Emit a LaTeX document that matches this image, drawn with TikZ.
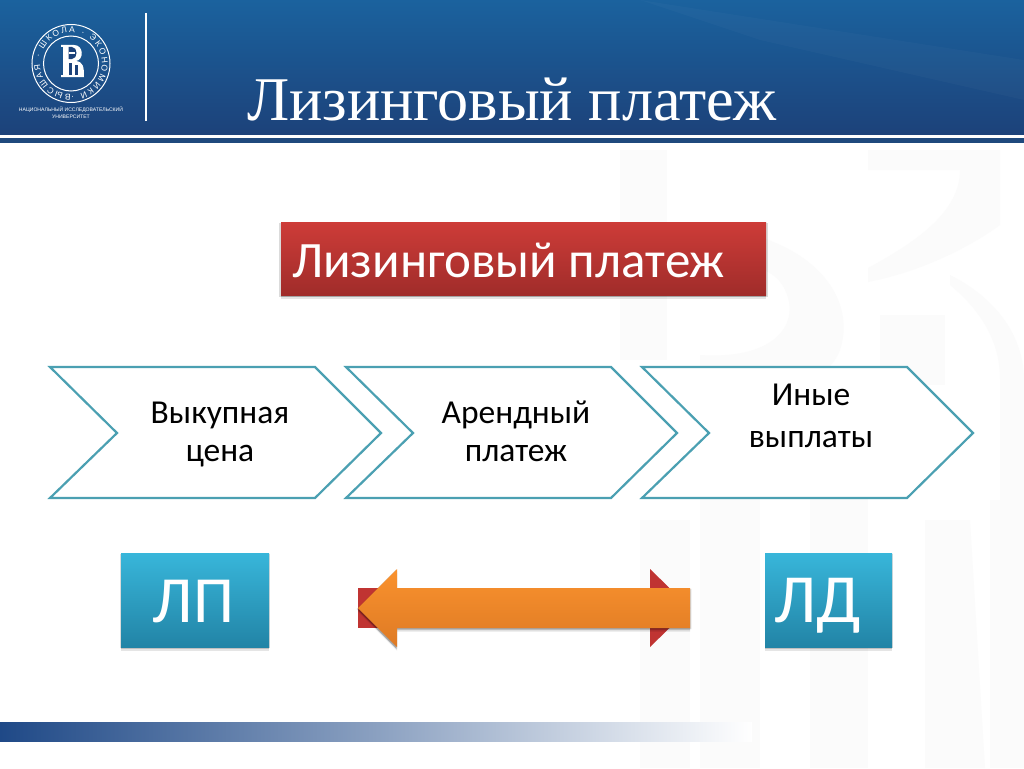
\documentclass[tikz,border=0pt]{standalone}
\usepackage{fontspec}
\setmainfont{Carlito}
\newfontfamily\serifru{Liberation Serif}
\newfontfamily\logofont{Liberation Sans}
\usetikzlibrary{shadows,decorations.text}
\definecolor{hdrtop}{RGB}{27,98,158}
\definecolor{hdrbot}{RGB}{28,66,122}
\definecolor{navy}{RGB}{31,73,125}
\definecolor{teal}{RGB}{75,160,178}
\definecolor{redtop}{RGB}{205,60,56}
\definecolor{redbot}{RGB}{160,44,42}
\definecolor{redflat}{RGB}{192,52,50}
\definecolor{ortop}{RGB}{250,146,46}
\definecolor{orbot}{RGB}{222,122,36}
\definecolor{bluetop}{RGB}{56,182,218}
\definecolor{bluebot}{RGB}{34,132,166}
\definecolor{wm}{RGB}{251,251,251}
\definecolor{barblue}{RGB}{31,73,135}
\tikzset{
  softshadow/.style={
    general shadow={shadow xshift=0pt,shadow yshift=-1pt,shadow scale=1.008,opacity=0.14,fill=black},
    general shadow={shadow xshift=0pt,shadow yshift=-2pt,opacity=0.16,fill=black},
    general shadow={shadow xshift=0pt,shadow yshift=-3.5pt,opacity=0.10,fill=black}},
  chevron/.style={draw=teal,line width=2.2pt,fill=white,line join=miter},
  chevlabel/.style={align=center,text=black,inner sep=0pt},
  redbox/.style={shade,top color=redtop,bottom color=redbot,softshadow,anchor=north west,minimum width=485pt,minimum height=73pt,inner sep=0pt},
  tealbox/.style={shade,top color=bluetop,bottom color=bluebot,softshadow,inner sep=0pt,minimum height=94pt},
  tealtext/.style={text=white,inner sep=0pt,anchor=base},
  wmshape/.style={fill=wm,draw=none},
}
\begin{document}
\begin{tikzpicture}[x=1pt,y=-1pt]
\useasboundingbox (0,0) rectangle (1024,768);
\fill[white] (0,0) rectangle (1024,768);
% watermark
\fill[wmshape] (620,150) rectangle (667,360);
\fill[wmshape] (620,225) .. controls (800,210) and (860,290) .. (840,350) .. controls (825,390) and (760,400) .. (700,385) -- (700,355) .. controls (780,360) and (800,320) .. (785,290) .. controls (770,255) and (700,255) .. (620,262) -- cycle;
\fill[wmshape] (868,150) -- (1000,150) -- (1000,225) .. controls (980,240) and (930,270) .. (868,282) -- (868,268) .. controls (920,240) and (960,210) .. (960,170) -- (868,170) -- cycle;
\fill[wmshape] (950,275) .. controls (1000,300) and (1024,340) .. (1024,380) -- (1024,500) -- (1000,500) -- (1000,380) .. controls (1000,340) and (980,310) .. (950,285) -- cycle;
\fill[wmshape] (880,315) rectangle (945,385);
\fill[wmshape] (700,480) rectangle (760,768);
\fill[wmshape] (640,520) rectangle (690,768);
\fill[wmshape] (810,480) rectangle (868,768);
\fill[wmshape] (925,520) -- (970,520) -- (985,768) -- (925,768) -- cycle;
\fill[wmshape] (990,500) rectangle (1024,768);
% header
\shade[top color=hdrtop,bottom color=hdrbot] (0,0) rectangle (1024,134);
\fill[white,opacity=0.025] (640,0) -- (1024,60) -- (1024,100) -- (760,40) -- cycle;
\fill[navy] (0,138) rectangle (1024,143);
\draw[white,line width=2.5pt] (146,13) -- (146,121);
% logo
\draw[white,line width=1pt] (71,63.5) circle (39);
\draw[white,line width=1pt] (71,63.5) circle (27.5);
\path[decorate,decoration={text along path,text align=fit to path,text={|\logofont\fontsize{8.5}{9}\selectfont\color{white}|ВЫСШАЯ · ШКОЛА · ЭКОНОМИКИ · }}] (71,94.5) .. controls (53.9,94.5) and (40,80.6) .. (40,63.5) .. controls (40,46.4) and (53.9,32.5) .. (71,32.5) .. controls (88.1,32.5) and (102,46.4) .. (102,63.5) .. controls (102,80.6) and (88.1,94.5) .. (71,94.5);
\fill[white] (61,45) -- (74,45) .. controls (84,45) and (84,60) .. (76,61) .. controls (83,62) and (84,66) .. (84,77) -- (61,77) -- (61,75) -- (63,75) -- (63,47) -- (61,47) -- cycle;
\fill[hdrbot] (68.5,47) -- (72,47) .. controls (78,47) and (78,59) .. (72,59) -- (68.5,59) -- cycle;
\fill[white] (69,52.5) rectangle (75,53.8);
\fill[hdrbot] (68.5,63) rectangle (71.5,74.5);
\fill[hdrbot] (75,65) rectangle (78,74.5);
\node[font=\logofont\fontsize{5.1}{7}\selectfont,text=white,align=center,inner sep=0pt] (logoT) at (71,113) {НАЦИОНАЛЬНЫЙ ИССЛЕДОВАТЕЛЬСКИЙ\\УНИВЕРСИТЕТ};
% title
\node[font=\serifru\fontsize{62.2}{64}\selectfont,text=white,inner sep=0pt,anchor=base] (title) at (512,120) {Лизинговый платеж};
% red title box
\node[redbox] (lpbox) at (281,222) {};
\node[font=\fontsize{51}{51}\selectfont,text=white,inner sep=0pt,anchor=base west] (lptext) at (292,277) {Лизинговый платеж};
% chevrons
\draw[chevron] (50,367) -- (315,367) -- (381,433) -- (315,498) -- (50,498) -- (117,433) -- cycle;
\draw[chevron] (346,367) -- (611,367) -- (677,433) -- (611,498) -- (346,498) -- (413,433) -- cycle;
\draw[chevron] (642,367) -- (907,367) -- (973,433) -- (907,498) -- (642,498) -- (709,433) -- cycle;
\node[chevlabel,font=\fontsize{33.5}{38}\selectfont] (c1) at (220,434) {Выкупная\\цена};
\node[chevlabel,font=\fontsize{33.5}{38}\selectfont] (c2) at (516,431) {Арендный\\платеж};
\node[chevlabel,font=\fontsize{33.5}{42}\selectfont] (c3) at (811,415.5) {Иные\\выплаты};
% teal boxes
\node[tealbox,minimum width=148pt] (lp) at (195,600) {};
\node[tealbox,minimum width=127pt] (ld) at (828.5,600) {};
\node[tealtext,font=\fontsize{66}{70}\selectfont] (lpt) at (193.5,622) {ЛП};
\node[tealtext,font=\fontsize{69}{70}\selectfont] (ldt) at (818,622) {ЛД};
% red arrow beneath
\fill[redflat] (358,588) rectangle (420,628);
\fill[redflat] (650,569) -- (690,608) -- (650,647) -- cycle;
% orange arrow
\shade[top color=ortop,bottom color=orbot,softshadow] (690,588) -- (397,588) -- (397,569) -- (358,608) -- (397,647) -- (397,628) -- (690,628) -- cycle;
% footer
\shade[left color=barblue,right color=white,middle color=barblue!52!white] (0,722) rectangle (752,741);
\end{tikzpicture}
\end{document}
